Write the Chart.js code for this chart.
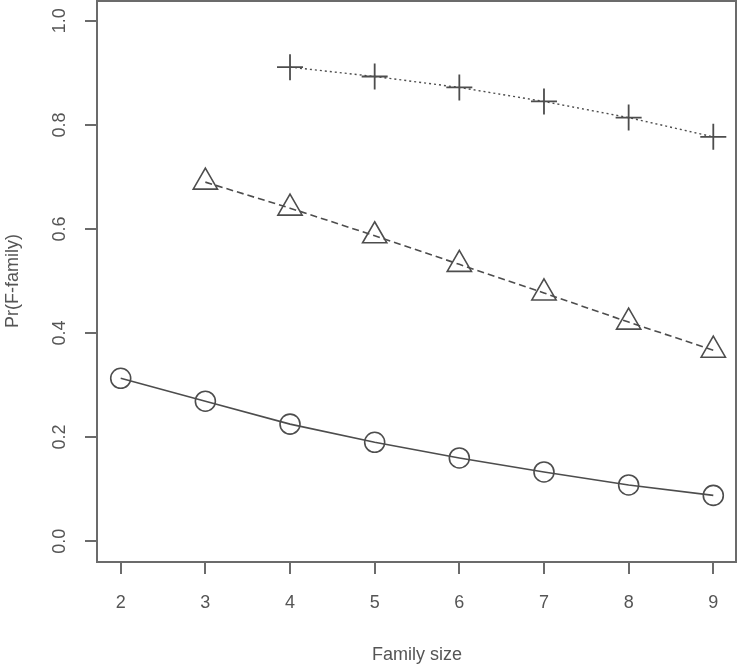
<!DOCTYPE html>
<html lang="en">
<head>
<meta charset="UTF-8">
<script src="https://cdn.jsdelivr.net/npm/chart.js@4.4.1/dist/chart.umd.min.js"></script>
<title>Pr(F-family) by family size</title>
<style>
  html, body { margin: 0; padding: 0; background: #fff; }
  #wrap { width: 740px; height: 666px; }
</style>
</head>
<body>
<div id="wrap"><canvas id="myChart"></canvas></div>
<script>
// data
const familySize = [2, 3, 4, 5, 6, 7, 8, 9];
const circleSeries = [0.313, 0.269, 0.225, 0.190, 0.160, 0.133, 0.108, 0.088];   // starts at size 2
const triangleSeries = [0.690, 0.640, 0.587, 0.532, 0.477, 0.421, 0.367];       // starts at size 3
const plusSeries = [0.911, 0.893, 0.872, 0.845, 0.814, 0.777];                   // starts at size 4
const xTicks = [2, 3, 4, 5, 6, 7, 8, 9];
const yTicks = [0.0, 0.2, 0.4, 0.6, 0.8, 1.0];

const ink = '#4d4d4d';
const axisGray = '#6b6b6b';
const textGray = '#555555';
const labelFont = { family: "'Liberation Sans', Arial, sans-serif", size: 18 };

function pairs(values) {
    // align series to the end of familySize
    const start = familySize.length - values.length;
    return values.map((v, i) => ({ x: familySize[start + i], y: v }));
}

const boxPlugin = {
    id: 'box',
    afterDraw(chart) {
        const a = chart.chartArea;
        const ctx = chart.ctx;
        ctx.save();
        ctx.strokeStyle = axisGray;
        ctx.lineWidth = 2;
        ctx.strokeRect(a.left, a.top + 1, a.right - a.left - 1, a.bottom - a.top - 1);
        ctx.restore();
    }
};

const ctx = document.getElementById('myChart').getContext('2d');
const myChart = new Chart(ctx, {
    type: 'line',
    data: {
        datasets: [
            {
                label: 'circles',
                data: pairs(circleSeries),
                borderColor: ink,
                borderWidth: 1.6,
                pointStyle: 'circle',
                pointRadius: 10,
                pointBorderWidth: 1.6,
                pointBorderColor: ink,
                pointBackgroundColor: 'rgba(0,0,0,0)',
                tension: 0
            },
            {
                label: 'triangles',
                data: pairs(triangleSeries),
                borderColor: ink,
                borderWidth: 1.6,
                borderDash: [7, 4],
                pointStyle: 'triangle',
                pointRadius: 14,
                pointBorderWidth: 1.6,
                pointBorderColor: ink,
                pointBackgroundColor: 'rgba(0,0,0,0)',
                tension: 0
            },
            {
                label: 'plus',
                data: pairs(plusSeries),
                borderColor: ink,
                borderWidth: 1.4,
                borderDash: [2, 3],
                pointStyle: 'cross',
                pointRadius: 13,
                pointBorderWidth: 1.8,
                pointBorderColor: ink,
                pointBackgroundColor: 'rgba(0,0,0,0)',
                tension: 0
            }
        ]
    },
    options: {
        responsive: true,
        maintainAspectRatio: false,
        animation: false,
        layout: { autoPadding: false, padding: { top: 0, right: 3, bottom: 0, left: 0 } },
        scales: {
            x: {
                type: 'linear',
                min: 1.72,
                max: 9.28,
                afterBuildTicks: (scale) => { scale.ticks = xTicks.map(v => ({ value: v })); },
                afterFit: (scale) => { scale.height = 104; scale.paddingLeft = 0; scale.paddingRight = 0; },
                grid: { display: true, drawOnChartArea: false, drawTicks: true, tickLength: 12, tickColor: axisGray, lineWidth: 2 },
                border: { display: false },
                ticks: { color: textGray, font: labelFont, padding: 18, maxRotation: 0 },
                title: { display: true, text: 'Family size', color: textGray, font: labelFont, padding: { top: 4, bottom: 0 } }
            },
            y: {
                min: -0.04,
                max: 1.04,
                afterBuildTicks: (scale) => { scale.ticks = yTicks.map(v => ({ value: v })); },
                afterFit: (scale) => { scale.width = 97; scale.paddingTop = 0; scale.paddingBottom = 0; },
                grid: { display: true, drawOnChartArea: false, drawTicks: true, tickLength: 12, tickColor: axisGray, lineWidth: 2 },
                border: { display: false },
                ticks: {
                    color: textGray,
                    font: labelFont,
                    padding: 12,
                    minRotation: 90,
                    maxRotation: 90,
                    crossAlign: 'center',
                    callback: (v) => Number(v).toFixed(1)
                },
                title: { display: true, text: 'Pr(F-family)', color: textGray, font: labelFont, padding: { top: 2, bottom: 0 } }
            }
        },
        plugins: {
            legend: { display: false },
            tooltip: { enabled: false }
        }
    },
    plugins: [boxPlugin]
});
</script>
</body>
</html>
